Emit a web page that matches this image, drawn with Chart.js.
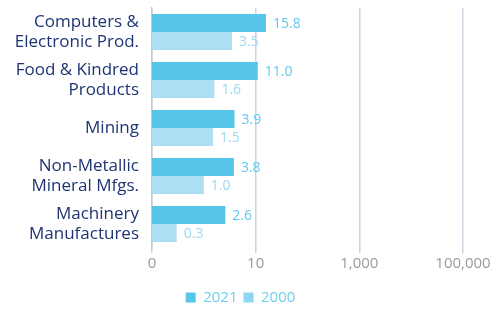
<!DOCTYPE html>
<html><head><meta charset="utf-8">
<script src="https://cdn.jsdelivr.net/npm/chart.js@4/dist/chart.umd.min.js"></script>
<style>html,body{margin:0;padding:0;background:#fff;}#wrap{width:498px;height:309px;}</style>
</head><body><div id="wrap"><canvas id="c" width="498" height="309"></canvas></div>
<script>
const categories = [["Computers &","Electronic Prod."],["Food & Kindred","Products"],["Mining"],["Non-Metallic","Mineral Mfgs."],["Machinery","Manufactures"]];
const series2021 = [15.8, 11.0, 3.9, 3.8, 2.6];
const series2000 = [3.5, 1.6, 1.5, 1.0, 0.3];
const tickValues = [0.1, 10, 1000, 100000];
const tickLabels = ["0", "10", "1,000", "100,000"];

const FONT = "'Open Sans', Lato, sans-serif";

const labelPlugin = {
  id: 'barLabels',
  afterLayout(chart) {
    if (chart.legend) { chart.legend.left += 9; chart.legend.right += 9; }
  },
  afterDatasetsDraw(chart) {
    const ctx = chart.ctx;
    chart.data.datasets.forEach((ds, i) => {
      const meta = chart.getDatasetMeta(i);
      ctx.save();
      ctx.font = "14px " + FONT;
      ctx.fillStyle = ds.labelColor;
      ctx.textBaseline = 'middle';
      ctx.textAlign = 'left';
      meta.data.forEach((el, j) => {
        ctx.fillText(ds.data[j].toFixed(1), el.x + 7, el.y + 1);
      });
      ctx.restore();
    });
  }
};

new Chart(document.getElementById('c'), {
  type: 'bar',
  data: {
    labels: categories,
    datasets: [
      {label: '2021', data: series2021, backgroundColor: '#55C6EA', labelColor: '#5ECAEC', categoryPercentage: 0.75, barPercentage: 1.0},
      {label: '2000', data: series2000, backgroundColor: '#ADDFF4', labelColor: '#9CD9F2', categoryPercentage: 0.75, barPercentage: 1.0}
    ]
  },
  options: {
    indexAxis: 'y',
    responsive: false,
    animation: false,
    layout: {padding: {top: 8, right: 35, left: 0, bottom: -6}},
    scales: {
      x: {
        type: 'logarithmic',
        min: 0.1, max: 100000,
        afterBuildTicks(scale) { scale.ticks = tickValues.map(v => ({value: v})); },
        afterFit(scale) { scale.height = 36; },
        ticks: {
          callback(v) { const k = tickValues.indexOf(v); return k >= 0 ? tickLabels[k] : ''; },
          color: '#9A9A9A', font: {family: FONT, size: 15}, padding: 2, autoSkip: false, maxRotation: 0
        },
        grid: {color: '#D3D2E3', lineWidth: 1.5, tickLength: 5, drawTicks: true},
        border: {display: false}
      },
      y: {
        afterFit(scale) { scale.width = 152; scale.paddingTop = 0; scale.paddingBottom = 0; },
        ticks: {color: '#1E3473', font: {family: FONT, size: 17, lineHeight: 1.2}, padding: 5, autoSkip: false},
        grid: {display: false},
        border: {display: true, color: '#C8C3E2', width: 1.5}
      }
    },
    plugins: {
      legend: {
        position: 'bottom',
        labels: {boxWidth: 10, boxHeight: 10, color: '#6CCFF0', font: {family: FONT, size: 15}, padding: 6,
          generateLabels(chart) {
            const cols = ['#55C6EA', '#8FD6F0'];
            return chart.data.datasets.map((d, i) => ({text: d.label, fillStyle: cols[i], strokeStyle: cols[i], lineWidth: 0, datasetIndex: i, fontColor: '#6CCFF0'}));
          }
        }
      },
      tooltip: {enabled: false}
    }
  },
  plugins: [labelPlugin]
});
</script></body></html>
